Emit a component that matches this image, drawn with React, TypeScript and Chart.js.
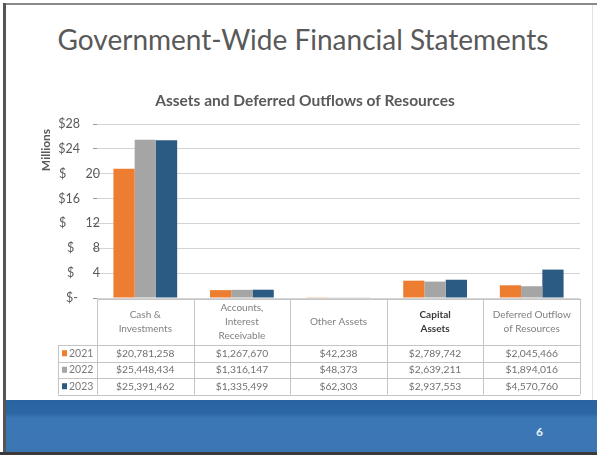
import React, { useEffect, useRef } from "react";
import { Chart, registerables } from "chart.js";
Chart.register(...registerables);

const categories: string[][] = [
  ["Cash &", "Investments"],
  ["Accounts,", "Interest", "Receivable"],
  ["Other Assets"],
  ["Capital", "Assets"],
  ["Deferred Outflow", "of Resources"],
];
const years = ["2021", "2022", "2023"];
const values2021 = [20781258, 1267670, 42238, 2789742, 2045466];
const values2022 = [25448434, 1316147, 48373, 2639211, 1894016];
const values2023 = [25391462, 1335499, 62303, 2937553, 4570760];
const yTickValues = [0, 4, 8, 12, 16, 20, 24, 28];
const yTickLabels = ["$-", "$ 4", "$ 8", "$ 12", "$16", "$ 20", "$24", "$28"];
const seriesColors = ["#ED7D31", "#A5A5A5", "#2B5A82"];

const FONT = "Lato, 'Open Sans', sans-serif";

function fmt(v: number) {
  return "$" + v.toLocaleString("en-US");
}

export default function App() {
  const ref = useRef<HTMLCanvasElement | null>(null);
  useEffect(() => {
    const canvas = ref.current;
    if (!canvas) return;
    const series = [values2021, values2022, values2023];

    const drawPlugin = {
      id: "slideExtras",
      afterDraw(chart: any) {
        const { ctx, chartArea, scales } = chart;
        const y = scales.y;
        ctx.save();
        // chart title
        ctx.fillStyle = "#595959";
        ctx.font = `bold 15.5px ${FONT}`;
        ctx.textAlign = "center";
        ctx.textBaseline = "middle";
        ctx.fillText("Assets and Deferred Outflows of Resources", 305, 101);
        // Millions
        ctx.save();
        ctx.translate(46, 150);
        ctx.rotate(-Math.PI / 2);
        ctx.font = `bold 12px ${FONT}`;
        ctx.fillText("Millions", 0, 0);
        ctx.restore();
        // y labels
        ctx.font = `12.5px ${FONT}`;
        ctx.fillStyle = "#595959";
        yTickValues.forEach((v, i) => {
          const py = y.getPixelForValue(v);
          const lab = yTickLabels[i];
          if (lab.includes(" ")) {
            const [d, n] = lab.split(" ");
            ctx.textAlign = "left";
            ctx.fillText(d, n.length > 1 ? 59 : 67, py);
            ctx.textAlign = "right";
            ctx.fillText(n, 100, py);
          } else {
            ctx.textAlign = "right";
            ctx.fillText(lab, lab === "$-" ? 78 : 80, py);
          }
        });
        // data table
        const left = chartArea.left;
        const right = chartArea.right;
        const n = categories.length;
        const colW = (right - left) / n;
        const legLeft = 58;
        const headTop = chartArea.bottom + 1;
        const headBot = headTop + 46;
        const rowH = 16.5;
        const tableBot = headBot + rowH * 3;
        ctx.strokeStyle = "#c4c4c4";
        ctx.lineWidth = 1;
        const hline = (x1: number, x2: number, yy: number) => {
          ctx.beginPath();
          ctx.moveTo(x1, Math.round(yy) + 0.5);
          ctx.lineTo(x2, Math.round(yy) + 0.5);
          ctx.stroke();
        };
        const vline = (xx: number, y1: number, y2: number) => {
          ctx.beginPath();
          ctx.moveTo(Math.round(xx) + 0.5, y1);
          ctx.lineTo(Math.round(xx) + 0.5, y2);
          ctx.stroke();
        };
        hline(left, right, headTop);
        hline(legLeft, right, headBot);
        for (let r = 1; r <= 3; r++) hline(legLeft, right, headBot + r * rowH);
        for (let c = 0; c <= n; c++) vline(left + c * colW, headTop, tableBot);
        vline(legLeft, headBot, tableBot);

        ctx.textAlign = "center";
        ctx.textBaseline = "middle";
        categories.forEach((lines, c) => {
          const cx = left + (c + 0.5) * colW;
          const lh = 14;
          const midY = (headTop + headBot) / 2;
          const startY = midY - ((lines.length - 1) * lh) / 2;
          const isCap = c === 3;
          ctx.font = `${isCap ? "bold " : ""}10px ${FONT}`;
          ctx.fillStyle = isCap ? "#3a3a3a" : "#808080";
          lines.forEach((t, k) => ctx.fillText(t, cx, startY + k * lh));
        });
        series.forEach((vals, r) => {
          const cy = headBot + (r + 0.5) * rowH;
          ctx.font = `10.3px ${FONT}`;
          ctx.fillStyle = "#707070";
          ctx.textAlign = "center";
          vals.forEach((v, c) => {
            ctx.fillText(fmt(v), left + (c + 0.5) * colW, cy);
          });
          ctx.fillStyle = seriesColors[r];
          ctx.fillRect(62, cy - 3, 5, 6);
          ctx.fillStyle = "#7a7a7a";
          ctx.textAlign = "left";
          ctx.font = `10.5px ${FONT}`;
          ctx.fillText(years[r], 69, cy);
        });
        ctx.restore();
      },
    };

    const chart = new Chart(canvas, {
      type: "bar",
      data: {
        labels: categories.map((c) => c.join(" ")),
        datasets: series.map((vals, i) => ({
          label: years[i],
          data: vals.map((v) => v / 1e6),
          backgroundColor: seriesColors[i],
          borderWidth: 0,
          categoryPercentage: 0.66,
          barPercentage: 1,
        })),
      },
      options: {
        responsive: false,
        animation: false,
        events: [],
        layout: { padding: { left: 93, right: 17, top: 124, bottom: 157 } },
        plugins: {
          legend: { display: false },
          title: { display: false },
          tooltip: { enabled: false },
        },
        scales: {
          x: { display: false },
          y: {
            min: 0,
            max: 28,
            ticks: { stepSize: 4, display: false },
            grid: { color: "#d4d4d4", tickColor: "#9a9a9a", tickLength: 4, drawTicks: true },
            border: { display: false },
          },
        },
      },
      plugins: [drawPlugin],
    } as any);
    return () => chart.destroy();
  }, []);

  return (
    <div
      style={{
        position: "fixed",
        left: 0,
        top: 0,
        width: 597,
        height: 455,
        background: "#ffffff",
        overflow: "hidden",
      }}
    >
      <div style={{ position: "absolute", left: 4, top: 3, right: 0, height: 2, background: "#8a8a8a" }} />
      <div style={{ position: "absolute", left: 3, top: 3, width: 3, height: 455, background: "#555" }} />
      <div style={{ position: "absolute", left: 592, top: 5, width: 1, height: 395, background: "#e2e2e2" }} />
      <div
        style={{
          position: "absolute",
          left: 0,
          top: 21,
          width: 606,
          textAlign: "center",
          fontFamily: FONT,
          fontSize: 28,
          lineHeight: "36px",
          color: "#595959",
        }}
      >
        Government-Wide Financial Statements
      </div>
      <div
        style={{
          position: "absolute",
          left: 6,
          top: 400,
          right: 0,
          height: 52,
          background: "linear-gradient(#2a63a0 0px, #2b66a3 13px, #3b77b5 18px, #3c76b2 100%)",
        }}
      />
      <div style={{ position: "absolute", left: 0, top: 452, right: 0, height: 3, background: "#3a3a3a" }} />
      <div
        style={{
          position: "absolute",
          left: 536,
          top: 424,
          color: "#e8f0f8",
          fontFamily: FONT,
          fontWeight: "bold",
          fontSize: 12,
        }}
      >
        6
      </div>
      <canvas ref={ref} width={597} height={455} style={{ position: "absolute", left: 0, top: 0, width: 597, height: 455 }} />
    </div>
  );
}
